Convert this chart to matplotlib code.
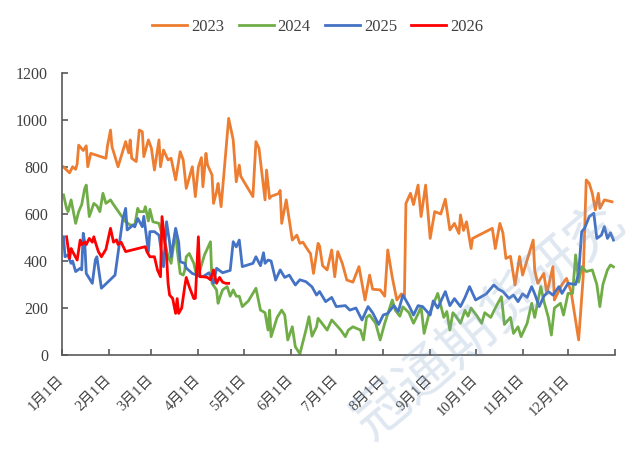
import matplotlib
matplotlib.use('Agg')
import matplotlib.pyplot as plt

# day of year (0 = Jan 1) and value for each year
d2023 = [1, 5, 7, 9, 10, 11, 14, 15, 16, 17, 19, 29, 30, 32, 33, 37, 39, 42, 44, 45,
         46, 49, 51, 53, 54, 57, 59, 61, 64, 65, 67, 70, 72, 75, 78, 80, 82, 86, 88, 90,
         92, 93, 95, 96, 99, 100, 102, 103, 105, 110, 113, 115, 117, 118, 126, 128, 130, 134, 135, 137,
         138, 143, 144, 145, 148, 152, 155, 157, 159, 163, 164, 166, 169, 170, 172, 175, 178, 180, 182, 185,
         188, 192, 196, 200, 203, 205, 210, 213, 215, 218, 221, 224, 226, 227, 230, 232, 235, 237, 240, 243,
         246, 250, 253, 256, 259, 262, 263, 265, 267, 270, 271, 284, 286, 289, 291, 293, 296, 299, 302, 304,
         307, 311, 312, 314, 318, 320, 322, 324, 325, 330, 333, 336, 341, 344, 346, 348, 350, 352, 354, 355,
         358, 363]
v2023 = [800, 775, 801, 790, 813, 893, 870, 880, 890, 801, 858, 837, 889, 957, 886, 801, 844, 908, 860, 915,
         837, 823, 957, 950, 844, 915, 880, 787, 915, 801, 872, 830, 837, 745, 865, 830, 709, 801, 674, 800,
         840, 716, 858, 810, 766, 645, 695, 730, 631, 1007, 915, 737, 808, 760, 674, 908, 880, 660, 787, 666,
         675, 687, 700, 560, 660, 489, 510, 475, 480, 440, 432, 347, 475, 464, 380, 362, 447, 333, 440, 390,
         319, 310, 376, 234, 340, 280, 277, 250, 447, 330, 234, 260, 248, 645, 688, 640, 723, 589, 723, 496,
         610, 600, 663, 532, 560, 517, 596, 530, 567, 453, 496, 539, 453, 560, 520, 411, 420, 298, 419, 340,
         404, 489, 360, 305, 347, 262, 320, 376, 234, 300, 326, 270, 64, 333, 745, 730, 688, 617, 688, 624,
         660, 652]

d2024 = [1, 3, 4, 6, 9, 11, 13, 15, 16, 18, 21, 23, 25, 27, 29, 32, 34, 38, 42, 45,
         48, 50, 51, 54, 55, 57, 58, 60, 64, 66, 68, 70, 72, 75, 76, 78, 80, 81, 82, 84,
         87, 89, 91, 94, 98, 99, 102, 103, 104, 106, 109, 111, 113, 115, 117, 119, 123, 128, 131, 134,
         136, 137, 138, 142, 145, 147, 149, 152, 154, 157, 161, 163, 165, 168, 169, 171, 175, 178, 180, 184,
         187, 189, 192, 197, 199, 201, 203, 207, 210, 213, 218, 220, 223, 225, 229, 232, 235, 237, 239, 242,
         244, 248, 252, 254, 256, 258, 260, 263, 266, 268, 270, 274, 277, 279, 283, 286, 290, 292, 296, 298,
         301, 303, 307, 310, 312, 316, 318, 321, 323, 325, 329, 331, 334, 337, 339, 341, 343, 346, 350, 353,
         355, 357, 360, 362, 364]
v2024 = [681, 624, 610, 660, 560, 610, 640, 709, 723, 589, 645, 635, 610, 688, 645, 660, 640, 603, 567, 553,
         553, 624, 610, 610, 631, 570, 620, 567, 560, 511, 475, 420, 390, 532, 450, 347, 340, 360, 418, 432,
         390, 333, 360, 425, 482, 305, 277, 220, 241, 277, 291, 250, 277, 250, 250, 206, 230, 284, 191, 180,
         106, 191, 78, 160, 191, 170, 64, 120, 35, 5, 106, 163, 80, 120, 156, 140, 106, 149, 135, 106,
         78, 106, 120, 106, 64, 160, 170, 135, 64, 135, 234, 190, 165, 205, 180, 135, 175, 205, 92, 170,
         200, 262, 160, 185, 106, 180, 165, 135, 190, 165, 200, 165, 135, 180, 160, 200, 248, 130, 160, 92,
         120, 78, 135, 220, 160, 291, 230, 160, 85, 200, 220, 170, 262, 262, 426, 310, 376, 355, 362, 300,
         206, 300, 362, 383, 375]

d2025 = [1, 2, 4, 5, 6, 7, 9, 12, 13, 14, 15, 16, 20, 22, 23, 26, 35, 38, 40, 42,
         43, 47, 48, 50, 53, 54, 57, 58, 61, 64, 67, 69, 71, 72, 75, 77, 78, 81, 82, 86,
         89, 93, 97, 100, 102, 106, 111, 113, 115, 117, 119, 126, 128, 131, 133, 134, 136, 138, 141, 144,
         147, 150, 154, 157, 161, 165, 168, 170, 174, 178, 181, 187, 190, 194, 198, 202, 205, 209, 212, 215,
         219, 222, 225, 229, 232, 235, 238, 243, 245, 248, 253, 256, 259, 263, 266, 269, 273, 276, 280, 285,
         288, 291, 295, 298, 301, 304, 307, 310, 312, 315, 318, 321, 324, 328, 330, 334, 339, 341, 343, 345,
         348, 351, 353, 356, 358, 360, 362, 364]
v2025 = [503, 418, 426, 404, 390, 400, 355, 369, 362, 518, 480, 347, 305, 404, 418, 284, 340, 482, 574, 624,
         532, 553, 545, 581, 546, 590, 440, 525, 525, 510, 376, 567, 480, 418, 539, 480, 397, 390, 370, 347,
         340, 333, 350, 305, 369, 350, 360, 482, 460, 489, 376, 390, 418, 380, 435, 390, 404, 400, 319, 362,
         330, 340, 298, 320, 312, 290, 255, 270, 227, 245, 206, 210, 191, 200, 149, 206, 180, 130, 170, 177,
         210, 185, 255, 210, 170, 210, 206, 170, 230, 200, 270, 210, 240, 206, 245, 291, 234, 245, 260, 298,
         280, 270, 241, 255, 227, 260, 245, 291, 260, 206, 250, 270, 255, 291, 262, 305, 300, 347, 525, 540,
         589, 603, 496, 510, 546, 496, 520, 489]

d2026 = [3, 5, 6, 7, 10, 12, 13, 15, 16, 18, 20, 21, 22, 24, 26, 29, 32, 34, 36, 37,
         39, 42, 55, 56, 58, 61, 63, 65, 66, 69, 70, 71, 73, 75, 76, 77, 79, 81, 82, 84,
         87, 88, 90, 91, 93, 96, 98, 100, 102, 104, 106, 108, 110]
v2026 = [503, 411, 453, 440, 404, 489, 470, 480, 470, 496, 480, 503, 480, 440, 418, 450, 539, 480, 490, 470,
         480, 440, 461, 440, 418, 418, 362, 333, 589, 420, 305, 255, 241, 177, 240, 177, 200, 291, 330, 290,
         240, 241, 503, 333, 333, 330, 320, 362, 305, 330, 310, 305, 305]

years = ['2023', '2024', '2025', '2026']
colors = ['#ED7D31', '#70AD47', '#4472C4', '#FF0000']
month_days = [0, 31, 59, 90, 120, 151, 181, 212, 243, 273, 304, 334, 365]
month_labels = [f'{m}月1日' for m in range(1, 13)] + ['']

cjk = ['Liberation Serif', 'Noto Sans CJK SC', 'DejaVu Sans']
plt.rcParams['font.family'] = cjk

fig = plt.figure(figsize=(6.36, 4.66), dpi=100)
ax = fig.add_axes([0.0975, 0.2382, 0.8695, 0.6052])

series = [(d2023, v2023), (d2024, v2024), (d2025, v2025), (d2026, v2026)]
for (d, v), yr, c in zip(series, years, colors):
    ax.plot(d, v, color=c, lw=2, label=yr)

ax.set_xlim(0, 365)
ax.set_ylim(0, 1200)
ax.set_yticks(range(0, 1201, 200))
ax.set_xticks(month_days)
ax.set_xticklabels(month_labels, rotation=45, ha='right', va='center',
                   rotation_mode='anchor', fontsize=10.5, color='#404040')
for s in ['top', 'right']:
    ax.spines[s].set_visible(False)
for s in ['left', 'bottom']:
    ax.spines[s].set_color('#595959')
    ax.spines[s].set_linewidth(1.2)
ax.tick_params(axis='both', direction='in', length=4, color='#595959', width=1.2)
ax.tick_params(axis='y', pad=10, labelsize=11.5, labelcolor='#404040')
ax.tick_params(axis='x', pad=16)

ax.legend(loc='center', bbox_to_anchor=(0.5, 0.942), bbox_transform=fig.transFigure,
          ncol=4, frameon=False, fontsize=12, handlelength=2.1, handletextpad=0.25,
          columnspacing=0.85, labelcolor='#404040')

# watermark
fig.text(0.77, 0.31, '冠通期货研究', fontsize=40, rotation=40, color='#7F9FC8',
         alpha=0.25, ha='center', va='center', family=['Noto Sans CJK SC'])

fig.savefig('out.png', dpi=100)
